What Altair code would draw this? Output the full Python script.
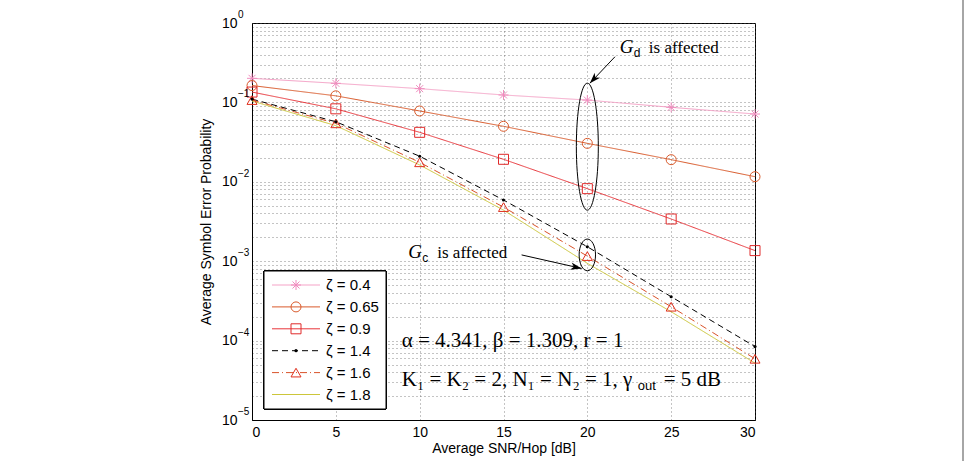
import altair as alt
import pandas as pd

# ---------------- data ----------------
snr_db = [0, 5, 10, 15, 20, 25, 30]
series_labels = ["ζ = 0.4", "ζ = 0.65", "ζ = 0.9", "ζ = 1.4", "ζ = 1.6", "ζ = 1.8"]
ser_z04 = [0.201, 0.174, 0.149, 0.124, 0.107, 0.0867, 0.0714]
ser_z065 = [0.163, 0.121, 0.078, 0.050, 0.0305, 0.019, 0.0116]
ser_z09 = [0.135, 0.083, 0.042, 0.0192, 0.0082, 0.0034, 0.00136]
ser_z14 = [0.110, 0.057, 0.021, 0.0059, 0.00152, 0.000357, 0.000084]
ser_z16 = [0.107, 0.0545, 0.0176, 0.0048, 0.00116, 0.000267, 0.000059]
ser_z18 = [0.104, 0.051, 0.0163, 0.0044, 0.00094, 0.000231, 0.000052]
all_series = [ser_z04, ser_z065, ser_z09, ser_z14, ser_z16, ser_z18]

hollow_marker_series = ["ζ = 0.4", "ζ = 0.65", "ζ = 0.9", "ζ = 1.6"]
dot_marker_series = ["ζ = 1.4"]

# y-axis decade labels: 10^exp
decade_values = [1.0, 1e-1, 1e-2, 1e-3, 1e-4, 1e-5]
decade_exponents = ["0", "−1", "−2", "−3", "−4", "−5"]

# annotation anchors (data space)
ellipse_snr = [20, 20]
ellipse_ser = [0.0277, 0.00120]
arrow_tail_snr = [21.65, 16.08]
arrow_tail_ser = [0.376, 0.00120]
arrow_head_snr = [20.15, 19.66]
arrow_head_ser = [0.174, 0.00081]
arrow_angle = [223.2, 102.5]
label_snr = [21.94, 9.32]
label_ser = [0.415, 0.001088]
label_sub = ["d", "c"]
param_snr = [8.93, 8.93]
param_ser = [8.38e-5, 2.68e-5]

# ---------------- styles ----------------
line_colors = ["#F5A3C7", "#D95A2B", "#E8353A", "#000000", "#D9532A", "#CCC63A"]
line_dashes = [[1, 0], [1, 0], [1, 0], [6, 4], [7, 3, 1, 3], [1, 0]]
marker_colors = ["#F08CBE", "#D95A2B", "#E02A2A", "#E0301E"]
asterisk = "M0,-1L0,1M-1,0L1,0M-0.7,-0.7L0.7,0.7M-0.7,0.7L0.7,-0.7"
marker_shapes = [asterisk, "circle", "square", "triangle-up"]

rows = []
for lab, vals in zip(series_labels, all_series):
    for s, v in zip(snr_db, vals):
        rows.append({"snr": s, "ser": v, "series": lab})
df = pd.DataFrame(rows)

x_scale = alt.Scale(domain=[0, 30], nice=False, zero=False)
y_scale = alt.Scale(type="log", domain=[1e-5, 1], nice=False)
color_scale = alt.Scale(domain=series_labels, range=line_colors)
dash_scale = alt.Scale(domain=series_labels, range=line_dashes)
shape_scale = alt.Scale(domain=hollow_marker_series, range=marker_shapes)
stroke_scale = alt.Scale(domain=hollow_marker_series, range=marker_colors)

y_vals = [m * 10.0 ** e for e in range(-5, 0) for m in range(1, 10)] + [1.0]
le = "round(log(datum.value)/LN10)"
y_label_expr = f"abs(log(datum.value)/LN10 - {le}) < 0.001 ? '10' : ''"

axis_style = dict(
    grid=True, gridDash=[1, 3], gridColor="#555", gridOpacity=0.7, gridWidth=1,
    ticks=False, domainColor="black", domainWidth=1,
    labelFont="Liberation Sans", labelFontSize=14, labelColor="black",
    titleFont="Liberation Sans", titleFontSize=14, titleFontWeight="normal",
    titleColor="black",
)
X = alt.X("snr:Q", scale=x_scale, axis=alt.Axis(
    values=[0, 5, 10, 15, 20, 25, 30], format="d", title="Average SNR/Hop [dB]",
    labelPadding=5, titlePadding=2, **axis_style))
Y = alt.Y("ser:Q", scale=y_scale, axis=alt.Axis(
    values=y_vals, labelExpr=y_label_expr, labelOverlap=False,
    title="Average Symbol Error Probability",
    labelPadding=15, titlePadding=8, **axis_style))

base = alt.Chart(df)
lines = base.mark_line(strokeWidth=1, clip=True).encode(
    x=X, y=Y,
    color=alt.Color("series:N", scale=color_scale, legend=None),
    strokeDash=alt.StrokeDash("series:N", scale=dash_scale, legend=None),
)
hollow = base.transform_filter(
    alt.FieldOneOfPredicate(field="series", oneOf=hollow_marker_series)
).mark_point(filled=False, size=100, strokeWidth=1, opacity=1).encode(
    x="snr:Q", y="ser:Q",
    shape=alt.Shape("series:N", scale=shape_scale, legend=None),
    stroke=alt.Stroke("series:N", scale=stroke_scale, legend=None),
)
dots = base.transform_filter(
    alt.FieldOneOfPredicate(field="series", oneOf=dot_marker_series)
).mark_point(filled=True, size=10, color="black", opacity=1, shape="circle").encode(
    x="snr:Q", y="ser:Q")

# exponent superscripts for the y-axis labels
exp_df = pd.DataFrame({"ser": decade_values, "exp": decade_exponents})
exps = alt.Chart(exp_df).mark_text(align="left", baseline="middle", font="Liberation Sans",
                                   fontSize=10, dy=-8, color="black").encode(
    x=alt.value(-14), y="ser:Q", text="exp:N")

# ---------------- legend (manual) ----------------
leg_df = pd.DataFrame({"series": series_labels, "row": list(range(len(series_labels)))})
leg = alt.Chart(leg_df).transform_calculate(ypx="262 + 21.9 * datum.row")
LY = alt.Y("ypx:Q", scale=None, axis=None)
leg_box = alt.Chart(leg_df).mark_rect(fill="white", stroke="black", strokeWidth=1).encode(
    x=alt.value(12), x2=alt.value(134), y=alt.value(248), y2=alt.value(386))
leg_lines = leg.mark_rule(strokeWidth=1).encode(
    x=alt.value(20), x2=alt.value(68), y=LY,
    color=alt.Color("series:N", scale=color_scale, legend=None),
    strokeDash=alt.StrokeDash("series:N", scale=dash_scale, legend=None))
leg_hollow = leg.transform_filter(
    alt.FieldOneOfPredicate(field="series", oneOf=hollow_marker_series)
).mark_point(filled=False, size=100, strokeWidth=1, opacity=1).encode(
    x=alt.value(44), y=LY,
    shape=alt.Shape("series:N", scale=shape_scale, legend=None),
    stroke=alt.Stroke("series:N", scale=stroke_scale, legend=None))
leg_dot = leg.transform_filter(
    alt.FieldOneOfPredicate(field="series", oneOf=dot_marker_series)
).mark_point(filled=True, size=10, color="black", opacity=1, shape="circle").encode(
    x=alt.value(44), y=LY)
leg_text = leg.mark_text(align="left", baseline="middle", font="Liberation Sans",
                         fontSize=15, color="black").encode(
    x=alt.value(74), y=LY, text="series:N")

# ---------------- annotations ----------------
ell_df = pd.DataFrame({"snr": ellipse_snr, "ser": ellipse_ser})
ell_big = alt.Chart(ell_df.iloc[[0]]).mark_point(
    shape="M0,-1A0.173,1 0 1,1 0,1A0.173,1 0 1,1 0,-1Z", size=16129,
    filled=False, stroke="black", strokeWidth=1, opacity=1).encode(x="snr:Q", y="ser:Q")
ell_small = alt.Chart(ell_df.iloc[[1]]).mark_point(
    shape="M0,-1A0.517,1 0 1,1 0,1A0.517,1 0 1,1 0,-1Z", size=1005,
    filled=False, stroke="black", strokeWidth=1, opacity=1).encode(x="snr:Q", y="ser:Q")

arr_df = pd.DataFrame({"x0": arrow_tail_snr, "y0": arrow_tail_ser,
                       "x1": arrow_head_snr, "y1": arrow_head_ser, "ang": arrow_angle})
arr_lines = alt.Chart(arr_df).mark_rule(color="black", strokeWidth=1).encode(
    x="x0:Q", y="y0:Q", x2="x1:Q", y2="y1:Q")
arr_heads = alt.Chart(arr_df).mark_point(
    shape="M0,0L0.55,1.6L0,1.15L-0.55,1.6Z", size=190, filled=True,
    color="black", opacity=1).encode(
    x="x1:Q", y="y1:Q", angle=alt.Angle("ang:Q", scale=None))

lab_df = pd.DataFrame({"snr": label_snr, "ser": label_ser, "sub": label_sub})
lab_G = alt.Chart(lab_df).mark_text(align="left", baseline="alphabetic", font="Liberation Serif",
                                    fontStyle="italic", fontSize=19, color="black").encode(
    x="snr:Q", y="ser:Q", text=alt.value("G"))
lab_sub = alt.Chart(lab_df).mark_text(align="left", baseline="alphabetic", font="Liberation Sans",
                                      fontSize=12, dx=14, dy=4, color="black").encode(
    x="snr:Q", y="ser:Q", text="sub:N")
lab_rest = alt.Chart(lab_df).mark_text(align="left", baseline="alphabetic", font="Liberation Serif",
                                       fontSize=17, dx=29, color="black").encode(
    x="snr:Q", y="ser:Q", text=alt.value("is affected"))

par_df = pd.DataFrame({"snr": param_snr, "ser": param_ser})
par1 = alt.Chart(par_df.iloc[[0]]).mark_text(align="left", baseline="alphabetic", font="Liberation Serif",
                                             fontSize=21, color="black").encode(
    x="snr:Q", y="ser:Q", text=alt.value("α = 4.341, β = 1.309, r = 1"))
par2a = alt.Chart(par_df.iloc[[1]]).mark_text(align="left", baseline="alphabetic", font="Liberation Serif",
                                              fontSize=21, color="black").encode(
    x="snr:Q", y="ser:Q", text=alt.value("K₁ = K₂ = 2, N₁ = N₂ = 1, γ"))
par2b = alt.Chart(par_df.iloc[[1]]).mark_text(align="left", baseline="alphabetic", font="Liberation Sans",
                                              fontSize=13, dx=236, dy=4, color="black").encode(
    x="snr:Q", y="ser:Q", text=alt.value("out"))
par2c = alt.Chart(par_df.iloc[[1]]).mark_text(align="left", baseline="alphabetic", font="Liberation Serif",
                                              fontSize=21, dx=262, color="black").encode(
    x="snr:Q", y="ser:Q", text=alt.value("= 5 dB"))

border = alt.Chart(leg_df.iloc[[0]]).mark_rule(color="#888", strokeWidth=1.5).encode(
    x=alt.value(711), y=alt.value(-23), y2=alt.value(438))

chart = alt.layer(
    lines, hollow, dots, exps,
    ell_big, ell_small, arr_lines, arr_heads,
    lab_G, lab_sub, lab_rest, par1, par2a, par2b, par2c,
    leg_box, leg_lines, leg_hollow, leg_dot, leg_text, border,
).properties(
    width=503, height=397,
    background="white",
    autosize=alt.AutoSizeParams(type="none"),
    padding={"left": 252, "top": 23, "right": 211, "bottom": 42},
).configure_view(
    stroke="black", strokeWidth=1
)

chart.save("out.html", embed_options={"renderer": "svg", "actions": False})
